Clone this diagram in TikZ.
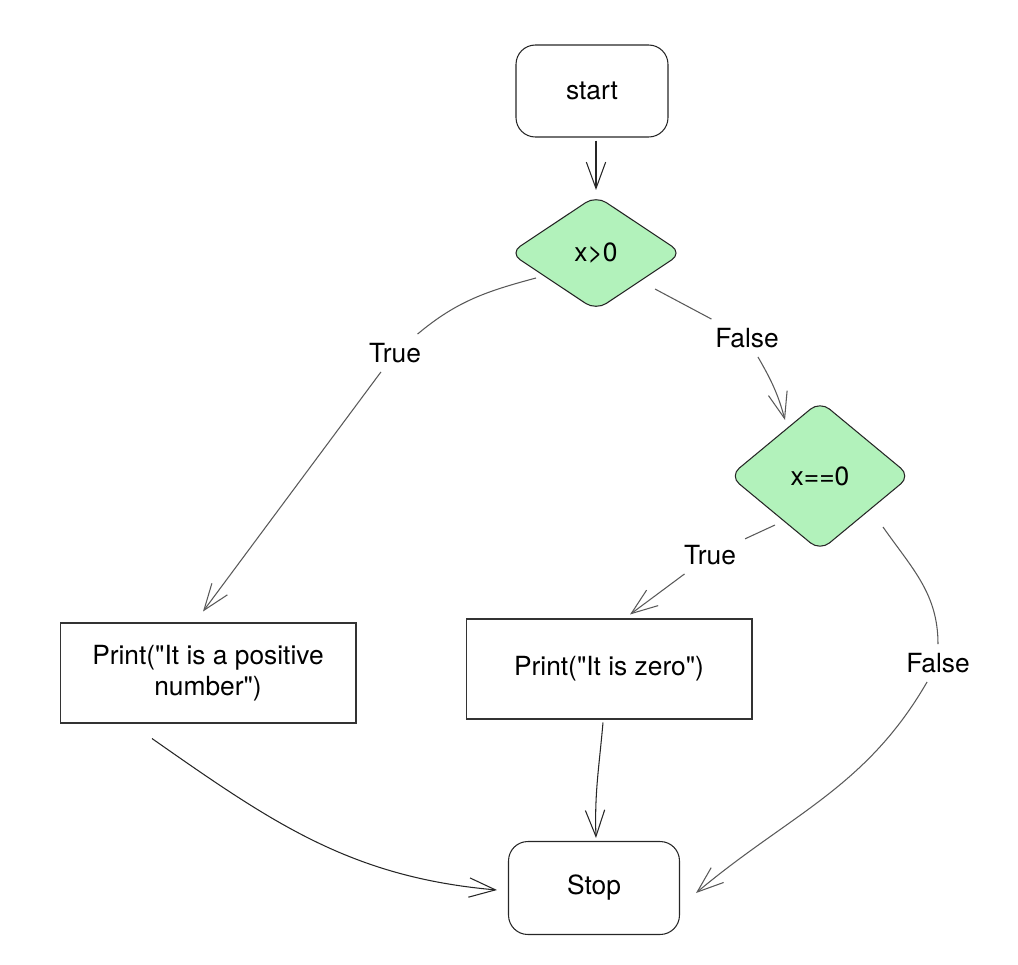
\documentclass[tikz,border=0pt]{standalone}
\usepackage{fontspec}
\setmainfont{TeX Gyre Heros}[Ligatures=TeXOff]
\usetikzlibrary{arrows.meta,shapes.geometric}
\definecolor{dgreen}{HTML}{B2F2BB}
\tikzset{
term/.style={draw=black!85,line width=0.6pt,rounded corners=11pt,minimum width=3.04cm,minimum height=1.84cm},
test/.style={draw=black!85,fill=dgreen,line width=0.6pt,diamond,rounded corners=7pt,inner sep=0pt},
proc/.style={draw=black!80,line width=0.6pt,minimum height=2cm,align=center},
lbl/.style={inner sep=5pt},
arr/.style={draw=black!85,line width=0.6pt,-{Straight Barb[length=15pt,width=11pt]}},
lab/.style={draw=black!65,line width=0.6pt}
}
\begin{document}
\begin{tikzpicture}[x=0.02cm,y=0.02cm,font=\fontsize{15}{18}\selectfont]
\useasboundingbox (0,0) rectangle (1018,-964);
\node[term] (start) at (592,-91) {start};
\node[test,minimum width=3.45cm,minimum height=2.3cm] (d1) at (596,-253) {x>0};
\node[test,minimum width=3.62cm,minimum height=3cm] (d2) at (820,-476) {x==0};
\node[proc,minimum width=5.92cm] (p1) at (208,-673) {Print("It is a positive\\number")};
\node[proc,minimum width=5.72cm] (p2) at (609,-669) {Print("It is zero")};
\node[term,minimum width=3.42cm,minimum height=1.86cm] (stop) at (594,-888) {Stop};
\node[lbl] (t1) at (395,-353) {True};
\node[lbl] (f1) at (747,-338) {False};
\node[lbl] (t2) at (710,-555) {True};
\node[lbl] (f2) at (938,-663) {False};
\draw[arr] ([shift={(4,-3)}]start.south) -- ([shift={(0,5)}]d1.north);
\draw[lab] ([shift={(-60,-25)}]d1.center) to[out=195,in=40] (t1);
\draw[arr,lab] (t1) -- ([shift={(-5,11)}]p1.north);
\draw[lab] ([shift={(59,-36)}]d1.center) -- (f1);
\draw[arr,lab] (f1) to[out=-60,in=105] ([shift={(-35,56)}]d2.center);
\draw[lab] ([shift={(-45,-49)}]d2.center) -- (t2);
\draw[arr,lab] (t2) -- ([shift={(21,4)}]p2.north);
\draw[lab] ([shift={(63,-51)}]d2.center) to[out=-55,in=90] (f2);
\draw[arr,lab] (f2) to[out=-120,in=40] ([shift={(16,-5)}]stop.east);
\draw[arr] ([shift={(-56,-15)}]p1.south) to[out=-35,in=175] ([shift={(-11,-2)}]stop.west);
\draw[arr] ([shift={(-6,-3)}]p2.south) to[out=-95,in=92] ([shift={(2,3)}]stop.north);
\end{tikzpicture}
\end{document}
